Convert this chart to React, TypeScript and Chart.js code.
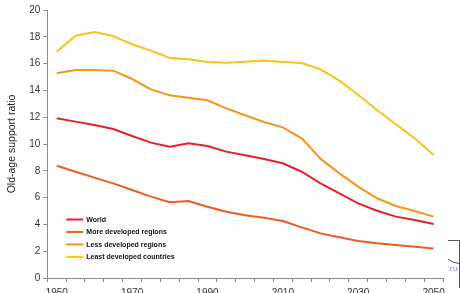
import React, { useEffect, useRef } from "react";
import { Chart, registerables } from "chart.js";

Chart.register(...registerables);

const years = [
  "1950", "1955", "1960", "1965", "1970", "1975", "1980", "1985", "1990", "1995",
  "2000", "2005", "2010", "2015", "2020", "2025", "2030", "2035", "2040", "2045", "2050",
];
const tickLabels = ["1950", "1970", "1990", "2010", "2030", "2050"];

const world = [11.92, 11.67, 11.42, 11.12, 10.6, 10.1, 9.8, 10.05, 9.85, 9.43, 9.16, 8.88, 8.56, 7.93, 7.07, 6.32, 5.57, 5.02, 4.58, 4.33, 4.03];
const moreDeveloped = [8.38, 7.93, 7.49, 7.06, 6.57, 6.07, 5.65, 5.75, 5.32, 4.95, 4.69, 4.5, 4.25, 3.78, 3.33, 3.04, 2.76, 2.59, 2.46, 2.34, 2.21];
const lessDeveloped = [15.28, 15.52, 15.52, 15.47, 14.85, 14.08, 13.63, 13.46, 13.26, 12.66, 12.15, 11.64, 11.24, 10.42, 8.9, 7.81, 6.82, 5.95, 5.37, 5.0, 4.58];
const leastDeveloped = [16.89, 18.08, 18.36, 18.06, 17.44, 16.97, 16.42, 16.32, 16.12, 16.07, 16.14, 16.24, 16.12, 16.04, 15.57, 14.73, 13.66, 12.54, 11.47, 10.42, 9.18];

const seriesNames = ["World", "More developed regions", "Less developed regions", "Least developed countries"];
const seriesColors = ["#E8202A", "#F05A23", "#F7941D", "#F8C21C"];

const FONT = "'Liberation Sans', Arial, sans-serif";

const legendPlugin = {
  id: "customLegend",
  afterDraw(chart: any) {
    const { ctx, chartArea } = chart;
    ctx.save();
    chart.data.datasets.forEach((ds: any, i: number) => {
      const y = chartArea.bottom - 58.5 + i * 12.45;
      const x0 = chartArea.left + 19;
      ctx.strokeStyle = ds.borderColor;
      ctx.lineWidth = 2;
      ctx.beginPath();
      ctx.moveTo(x0, y);
      ctx.lineTo(x0 + 17, y);
      ctx.stroke();
      ctx.fillStyle = "#111";
      ctx.font = `bold 7px ${FONT}`;
      ctx.textBaseline = "middle";
      ctx.textAlign = "left";
      ctx.fillText(ds.label, x0 + 20, y + 0.5);
    });
    ctx.restore();
  },
};

const edgePlugin = {
  id: "edgeMark",
  afterDraw(chart: any) {
    const { ctx, width } = chart;
    ctx.save();
    ctx.strokeStyle = "#555";
    ctx.lineWidth = 1;
    ctx.beginPath();
    ctx.moveTo(width - 12, 240.5);
    ctx.lineTo(width - 0.5, 240.5);
    ctx.lineTo(width - 0.5, 288);
    ctx.stroke();
    ctx.beginPath();
    ctx.moveTo(width - 12, 259);
    ctx.quadraticCurveTo(width - 7, 263, width - 1, 263.5);
    ctx.stroke();
    ctx.fillStyle = "#8c8cf0";
    ctx.font = `8px 'DejaVu Serif', serif`;
    ctx.textBaseline = "alphabetic";
    ctx.fillText("ru", width - 11, 271);
    ctx.restore();
  },
};

export default function App() {
  const canvasRef = useRef<HTMLCanvasElement | null>(null);

  useEffect(() => {
    const canvas = canvasRef.current;
    if (!canvas) return;
    const series = [world, moreDeveloped, lessDeveloped, leastDeveloped];
    const chart = new Chart(canvas, {
      type: "line",
      data: {
        labels: years,
        datasets: series.map((data, i) => ({
          label: seriesNames[i],
          data,
          borderColor: seriesColors[i],
          backgroundColor: seriesColors[i],
          borderWidth: 2,
          pointRadius: 0,
          tension: 0,
          fill: false,
        })),
      },
      options: {
        responsive: false,
        animation: false,
        layout: { padding: { top: 10, right: 17, left: 0, bottom: 0 } },
        plugins: {
          legend: { display: false },
          tooltip: { enabled: false },
        },
        scales: {
          x: {
            type: "category",
            offset: true,
            grid: {
              offset: true,
              drawOnChartArea: false,
              tickLength: 4,
              color: "#8a8a8a",
              tickColor: "#8a8a8a",
            },
            border: { color: "#8a8a8a" },
            ticks: {
              autoSkip: false,
              maxRotation: 0,
              padding: 5,
              color: "#333",
              font: { family: FONT, size: 10 },
              callback: (_v: any, i: number) => (tickLabels.includes(years[i]) ? years[i] : ""),
            },
            afterFit: (s: any) => {
              s.height = 15;
            },
          },
          y: {
            min: 0,
            max: 20,
            grid: {
              drawOnChartArea: false,
              tickLength: 4,
              color: "#8a8a8a",
              tickColor: "#8a8a8a",
            },
            border: { color: "#8a8a8a" },
            ticks: {
              stepSize: 2,
              padding: 3,
              color: "#333",
              font: { family: FONT, size: 10 },
            },
            title: {
              display: true,
              text: "Old-age support ratio",
              color: "#222",
              font: { family: FONT, size: 10.5 },
              padding: { top: 6, bottom: 0 },
            },
            afterFit: (s: any) => {
              s.width = 47.3;
            },
          },
        },
      },
      plugins: [legendPlugin, edgePlugin],
    });
    return () => chart.destroy();
  }, []);

  return (
    <div style={{ position: "absolute", left: 0, top: 0, width: 460, height: 293, background: "#fff" }}>
      <canvas ref={canvasRef} width={460} height={293} />
    </div>
  );
}
